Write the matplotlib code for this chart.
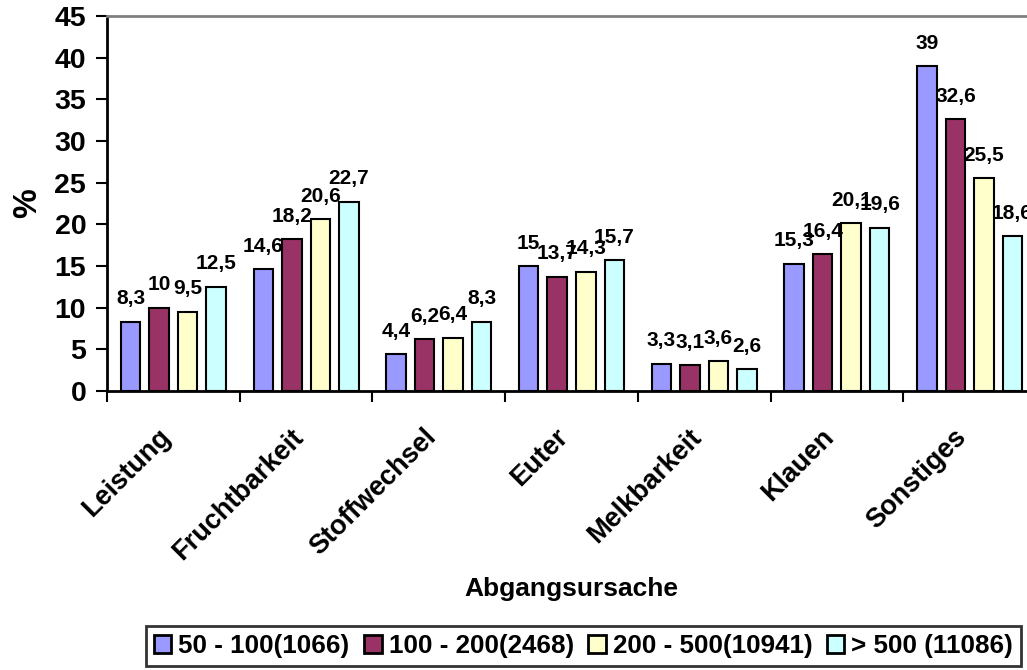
import numpy as np
import matplotlib
matplotlib.use("Agg")
import matplotlib.pyplot as plt
from matplotlib.transforms import offset_copy

# data
categories = ["Leistung", "Fruchtbarkeit", "Stoffwechsel", "Euter",
              "Melkbarkeit", "Klauen", "Sonstiges"]
series_names = ["50 - 100(1066)", "100 - 200(2468)", "200 - 500(10941)", "> 500 (11086)"]
s_50_100 = [8.3, 14.6, 4.4, 15, 3.3, 15.3, 39]
s_100_200 = [10, 18.2, 6.2, 13.7, 3.1, 16.4, 32.6]
s_200_500 = [9.5, 20.6, 6.4, 14.3, 3.6, 20.1, 25.5]
s_500 = [12.5, 22.7, 8.3, 15.7, 2.6, 19.6, 18.6]
series = [s_50_100, s_100_200, s_200_500, s_500]
colors = ["#9999FF", "#993366", "#FFFFCC", "#CCFFFF"]

plt.rcParams['font.family'] = ['Liberation Sans', 'DejaVu Sans']
plt.rcParams['font.weight'] = 'bold'

fig = plt.figure(figsize=(10.27, 6.70), dpi=100)
ax = fig.add_axes([107 / 1027, 1 - 391 / 670, (1036 - 107) / 1027, 375 / 670])

x = np.arange(len(categories))
pitch = 0.215
width = 0.147
for i, (vals, col) in enumerate(zip(series, colors)):
    pos = x + 0.5 + (i - 1.5) * pitch
    ax.bar(pos, vals, width, color=col, edgecolor="black", linewidth=1.5,
           label=series_names[i], zorder=2)
    for px, v in zip(pos, vals):
        ax.annotate(f"{v:g}".replace(".", ","), (px, v), xytext=(0, 12.5),
                    textcoords="offset points", ha="center", va="baseline",
                    fontsize=15, fontweight="bold", annotation_clip=False)

ax.set_xlim(0, len(categories))
ax.set_ylim(0, 45)
ax.set_yticks(np.arange(0, 46, 5))
ax.set_xticks(np.arange(len(categories) + 1))
ax.set_xticklabels([])
ax.tick_params(axis="both", direction="out", length=8, width=1.5, labelsize=20.5)
ax.tick_params(axis="y", pad=7)
for lab in ax.get_yticklabels():
    lab.set_fontweight("bold")

# category names, rotated (anchor left of centre, below axis)
trans = offset_copy(ax.transData, fig=fig, x=-16, y=-33, units="dots")
for xi, name in zip(x, categories):
    ax.text(xi + 0.5, 0, name, rotation=45, ha="right", va="top",
            rotation_mode="anchor", fontsize=19.5, fontweight="bold",
            transform=trans)

ax.spines["left"].set_linewidth(2)
ax.spines["bottom"].set_linewidth(2)
ax.spines["top"].set_color("#808080")
ax.spines["top"].set_linewidth(2)
ax.spines["right"].set_color("#808080")

ax.set_ylabel("%", fontsize=24, fontweight="bold")
ax.yaxis.set_label_coords(-0.0689, 0.5)
ax.set_xlabel("Abgangsursache", fontsize=19, fontweight="bold")
ax.xaxis.set_label_coords(0.5, -0.496)

leg = fig.legend(loc="upper left", bbox_to_anchor=(146 / 1027, 1 - 626 / 670),
                 ncol=4, frameon=True, fancybox=False, edgecolor="black",
                 prop={"size": 18.7, "weight": "bold"}, handlelength=0.68,
                 handleheight=0.68, handletextpad=0.27, columnspacing=0.55,
                 borderpad=0.3, borderaxespad=0)
leg.get_frame().set_linewidth(2)
for h in leg.legend_handles:
    h.set_linewidth(2)

fig.savefig("out.png", dpi=100)
